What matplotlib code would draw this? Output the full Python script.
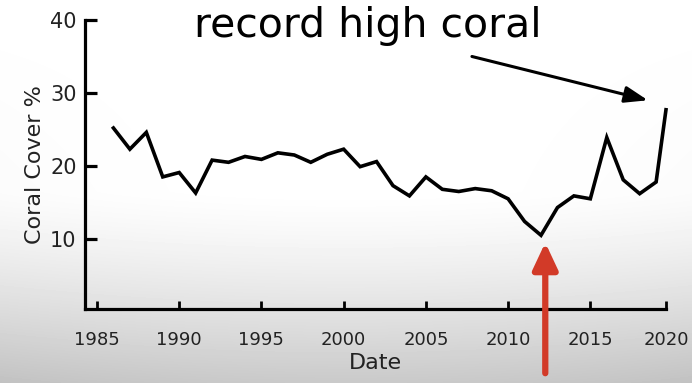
import numpy as np
import matplotlib.pyplot as plt

# coral cover
years = [1986, 1987, 1988, 1989, 1990, 1991, 1992, 1993, 1994, 1995,
         1996, 1997, 1998, 1999, 2000, 2001, 2002, 2003, 2004, 2005,
         2006, 2007, 2008, 2009, 2010, 2011, 2012, 2013, 2014, 2015,
         2016, 2017, 2018, 2019, 2019.6]
cover = [25.2, 22.3, 24.6, 18.5, 19.1, 16.3, 20.8, 20.5, 21.3, 20.9,
         21.8, 21.5, 20.5, 21.6, 22.3, 19.9, 20.6, 17.3, 15.9, 18.5,
         16.8, 16.5, 16.9, 16.6, 15.5, 12.4, 10.5, 14.3, 15.9, 15.5,
         23.9, 18.1, 16.2, 17.8, 27.7]

xticks = [1985, 1990, 1995, 2000, 2005, 2010, 2015, 2019.6]
xtick_labels = ['1985', '1990', '1995', '2000', '2005', '2010', '2015', '2020']
yticks = [10, 20, 30, 40]

fig = plt.figure(figsize=(6.92, 3.83), dpi=100)

# video-style background: white top fading to grey at the bottom
bg = fig.add_axes([0, 0, 1, 1], zorder=0)
rows = np.linspace(0, 1, 383)
shade = np.where(rows < 0.5, 1.0, 1.0 - 0.21 * ((rows - 0.5) / 0.5) ** 1.3)
img = np.repeat(shade[:, None], 692, axis=1)
cols = np.linspace(-1, 1, 692)
img = img - 0.03 * (cols[None, :] ** 2) * rows[:, None]
bg.imshow(img, cmap='gray', vmin=0, vmax=1, aspect='auto')
bg.axis('off')

ax = fig.add_axes([0.1228, 0.1932, 0.8396, 0.7546], zorder=1)
ax.patch.set_alpha(0)
ax.plot(years, cover, color='black', lw=2.6, solid_joinstyle='miter',
        clip_on=False)

ax.set_xlim(1984.27, 2019.6)
ax.set_ylim(0.4, 40)
ax.set_xticks(xticks)
ax.set_xticklabels(xtick_labels)
ax.set_yticks(yticks)

for s in ['top', 'right']:
    ax.spines[s].set_visible(False)
for s in ['left', 'bottom']:
    ax.spines[s].set_linewidth(2.3)
ax.tick_params(axis='x', direction='in', length=6, width=2, labelsize=13,
               pad=16, labelcolor='#222222')
ax.tick_params(axis='y', direction='in', length=8.5, width=2.3, labelsize=15,
               pad=6, labelcolor='#222222')
ax.set_xlabel('Date', fontsize=16, color='#222222', labelpad=3)
ax.set_ylabel('Coral Cover %', fontsize=16, color='#222222', labelpad=4)

ax.text(1990.9, 37.7, 'record high coral', fontsize=29.5, va='baseline',
        ha='left', color='black', clip_on=False)

ax.annotate('', xy=(2018.5, 29.0), xytext=(2007.8, 35.0),
            arrowprops=dict(arrowstyle='-|>,head_length=1.4,head_width=0.5',
                            color='black', lw=2.2, shrinkA=0, shrinkB=0),
            annotation_clip=False)
ax.annotate('', xy=(2012.26, 9.5), xytext=(2012.26, -8.4),
            arrowprops=dict(arrowstyle='-|>,head_length=1.6,head_width=0.75',
                            color='#d23a28', lw=4.5, shrinkA=0, shrinkB=0),
            annotation_clip=False)

fig.savefig('out.png', dpi=100)
